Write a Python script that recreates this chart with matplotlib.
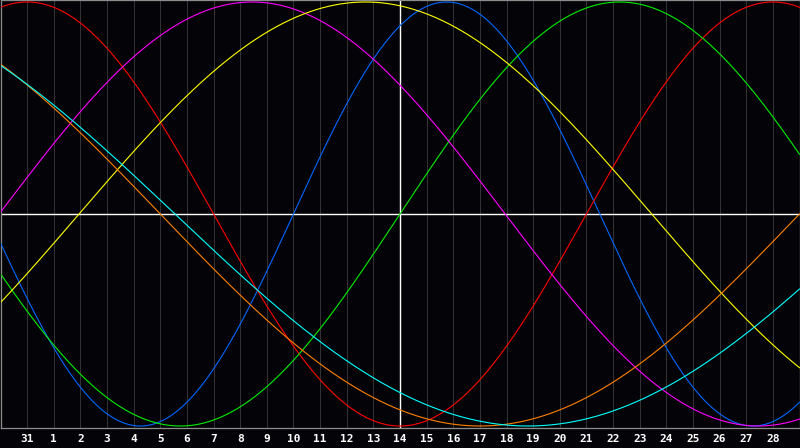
import numpy as np
import matplotlib
matplotlib.use("Agg")
import matplotlib.pyplot as plt

# Day labels under the grid lines (Jan 31, then February)
day_labels = ["31"] + [str(d) for d in range(1, 29)]

# Biorhythm cycles: period in days and day of the peak
periods = [23, 28, 33, 38, 43, 48, 53]
peak_days = [16.75, 1.0, 23.25, 9.45, 13.7, 42.0, 46.3]
colors = ["#0066ff", "#ff0000", "#00ee00", "#ff00ff", "#ffff00", "#ff8000", "#00ffff"]

n_days = 30
today = 15

fig = plt.figure(figsize=(8, 4.48), dpi=100, facecolor="#040408")
ax = fig.add_axes([0.5 / 800, 20 / 448, 799 / 800, 428 / 448])
ax.set_facecolor("#040408")

# day grid
for k in range(1, n_days):
    ax.axvline(k, color="#333333", lw=0.75, zorder=1)

ax.axhline(0, color="white", lw=1.0, zorder=2)
ax.axvline(today, color="white", lw=1.0, zorder=2)

t = np.linspace(0, n_days, 1601)
for p, pk, c in zip(periods, peak_days, colors):
    ax.plot(t, np.cos(2 * np.pi * (t - pk) / p), color=c, lw=0.8, zorder=3)

ax.set_xlim(0, n_days)
ax.set_ylim(-1.0094, 1.0094)
ax.set_xticks([])
ax.set_yticks([])
for s in ax.spines.values():
    s.set_color("#8c8c8c")
    s.set_linewidth(0.9)

# labels sit in the strip below the plot (centre ~11 px under the frame)
for k, lab in enumerate(day_labels, start=1):
    ax.text(k, -1.0613, lab, color="white", ha="center", va="center",
            fontsize=8, fontweight="bold", family="DejaVu Sans Mono",
            clip_on=False)

fig.savefig("out.png", dpi=100, facecolor=fig.get_facecolor())
